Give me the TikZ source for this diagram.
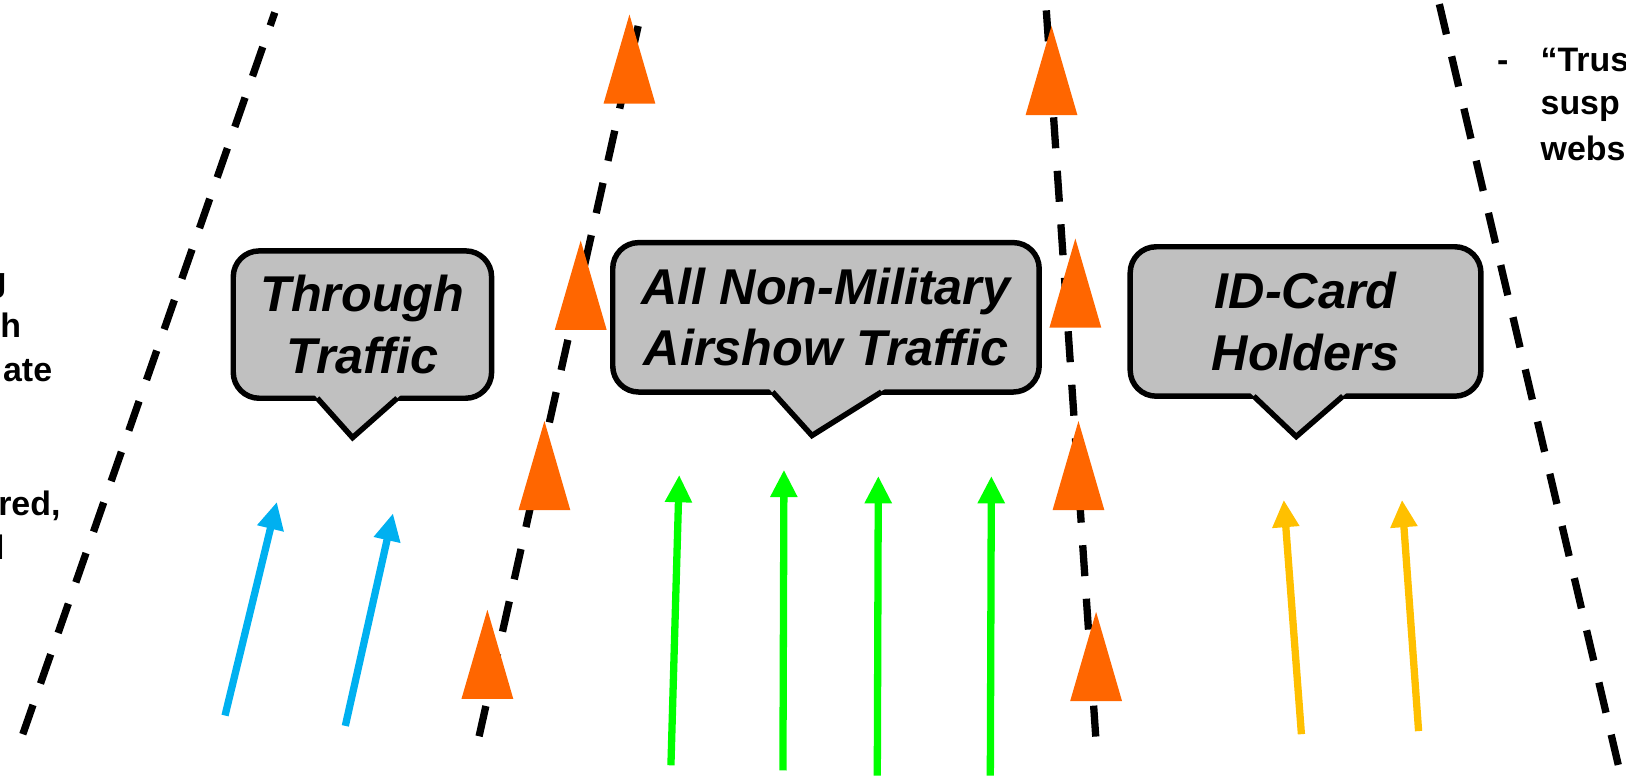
\documentclass[tikz,border=0pt]{standalone}
\usepackage{fontspec}
\setmainfont{Liberation Sans}
\usetikzlibrary{arrows.meta}
\definecolor{conecol}{HTML}{FF6600}
\definecolor{bluearr}{HTML}{00B0F0}
\definecolor{greenarr}{HTML}{00FF00}
\definecolor{goldarr}{HTML}{FFC000}
\definecolor{boxgray}{HTML}{C0C0C0}
\begin{document}
\begin{tikzpicture}[x=0.01cm,y=-0.01cm,
  lane/.style={line width=2pt, dash pattern=on 8.5pt off 6.2pt},
  flow/.style={line width=2pt, -{Triangle[length=7.5pt,width=7pt]}},
  bubble/.style={draw=black, line width=1.5pt, fill=boxgray, rounded corners=0.25cm,
     font=\fontsize{13.8}{16.8}\selectfont\bfseries\itshape, align=center, inner sep=0},
  bubbleptr/.style={draw=black, line width=1.5pt, line join=miter},
  sidetext/.style={font=\fontsize{9.3}{11}\selectfont\bfseries, inner sep=0},
  trafficcone/.pic={\fill[conecol] (0,0) -- (25,86) -- (-25,86) -- cycle;}
]
\useasboundingbox (0,0) rectangle (1568,751);
\clip (0,0) rectangle (1568,751);

% lane boundaries
\coordinate (l1a) at (22,708);  \coordinate (l1b) at (265,12);
\coordinate (l2a) at (462,710); \coordinate (l2b) at (617,18);
\coordinate (l3a) at (1009,10); \coordinate (l3b) at (1058,730);
\coordinate (l4a) at (1388,4);  \coordinate (l4b) at (1563,748);
\draw[lane] (l1a) -- (l1b);
\draw[lane] (l2a) -- (l2b);
\draw[lane] (l3a) -- (l3b);
\draw[lane] (l4a) -- (l4b);

% cones
\pic (cA) at (607,14)  {trafficcone};
\pic (cB) at (560,232) {trafficcone};
\pic (cC) at (525,406) {trafficcone};
\pic (cD) at (470,588) {trafficcone};
\pic (cE) at (1014,25) {trafficcone};
\pic (cF) at (1037,230) {trafficcone};
\pic (cG) at (1040,406) {trafficcone};
\pic (cH) at (1057,590) {trafficcone};

% traffic arrows
\coordinate (b1s) at (217,690); \coordinate (b1e) at (267,484);
\coordinate (b2s) at (333,700); \coordinate (b2e) at (379,495);
\draw[flow, bluearr] (b1s) -- (b1e);
\draw[flow, bluearr] (b2s) -- (b2e);
\coordinate (g1s) at (647,738); \coordinate (g1e) at (655,458);
\coordinate (g2s) at (755,743); \coordinate (g2e) at (756,453);
\coordinate (g3s) at (846,748); \coordinate (g3e) at (847,459);
\coordinate (g4s) at (955,748); \coordinate (g4e) at (956,459);
\draw[flow, greenarr] (g1s) -- (g1e);
\draw[flow, greenarr] (g2s) -- (g2e);
\draw[flow, greenarr] (g3s) -- (g3e);
\draw[flow, greenarr] (g4s) -- (g4e);
\coordinate (y1s) at (1255,708); \coordinate (y1e) at (1238,482);
\coordinate (y2s) at (1368,705); \coordinate (y2e) at (1352,482);
\draw[flow, goldarr] (y1s) -- (y1e);
\draw[flow, goldarr] (y2s) -- (y2e);

% callouts
\node[bubble, minimum width=2.49cm, minimum height=1.42cm] (thr) at (349.5,313) {Through\\Traffic};
\fill[boxgray] (303.3,381) -- (340,422) -- (386.4,381) -- cycle;
\draw[bubbleptr] (306,384) -- (340,422) -- (383,384);

\node[bubble, minimum width=4.11cm, minimum height=1.44cm] (nonmil) at (796.5,306) {All Non-Military\\Airshow Traffic};
\fill[boxgray] (741.6,375) -- (783,420) -- (853.4,375) -- cycle;
\draw[bubbleptr] (745,378) -- (783,420) -- (850,378);

\node[bubble, minimum width=3.38cm, minimum height=1.44cm] (idc) at (1259,310) {ID-Card\\Holders};
\fill[boxgray] (1205.8,379) -- (1250,421) -- (1298.3,379) -- cycle;
\draw[bubbleptr] (1209,382) -- (1250,421) -- (1295,382);

% partial side texts
\node[sidetext, anchor=base east] (s1) at (7,281) {g};
\node[sidetext, anchor=base east] (s2) at (21,325) {h};
\node[sidetext, anchor=base east] (s3) at (51,368) {ate};
\node[sidetext, anchor=base east] (s4) at (59,497) {red,};
\node[sidetext, anchor=base east] (s5) at (5,540) {l};

\node[sidetext, anchor=base west] (r0) at (1443,69) {-};
\node[sidetext, anchor=base west] (r1) at (1485,69) {“Trus};
\node[sidetext, anchor=base west] (r2) at (1485,110) {susp};
\node[sidetext, anchor=base west] (r3) at (1485,155) {webs};
\end{tikzpicture}
\end{document}
